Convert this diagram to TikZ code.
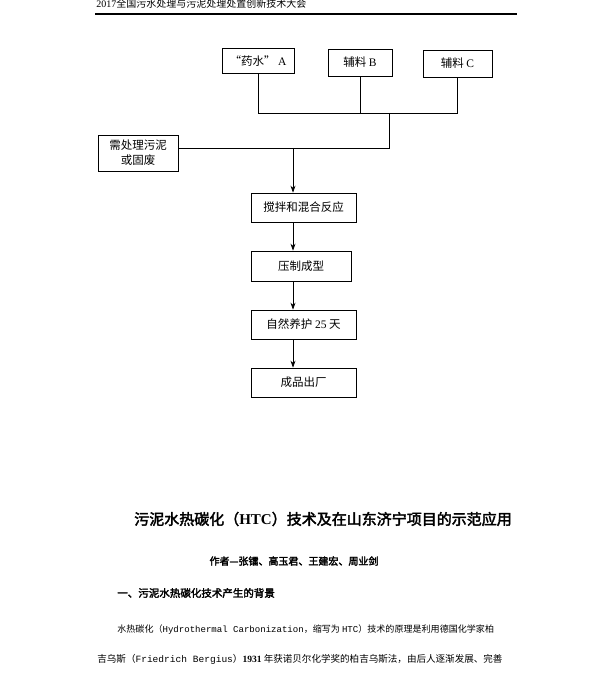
\documentclass[tikz,border=0pt]{standalone}
\usepackage{fontspec}
\setmainfont{Liberation Serif}
\newfontfamily\cjk[AutoFakeBold=2.5]{Noto Sans CJK SC}
\newfontfamily\mono{Liberation Mono}
\usetikzlibrary{arrows.meta}
\tikzset{
  box/.style={draw, line width=0.7pt, inner sep=0pt, align=center, font=\cjk\fontsize{11.5}{15}\selectfont},
  txt/.style={inner sep=0pt, font=\cjk\fontsize{9.2}{11}\selectfont},
}
\begin{document}
\begin{tikzpicture}[x=1pt, y=-1pt, >={Stealth[length=7pt,width=5pt]}, line width=0.7pt]
  \useasboundingbox (0,0) rectangle (600,692);
  %\draw [help lines] (0,0) grid [step=50] (600,692);
  \node (head) [txt, anchor=west, font=\cjk\fontsize{10}{12}\selectfont] at (96,4) {{\rmfamily 2017}全国污水处理与污泥处理处置创新技术大会};
  \draw [line width=1.8pt] (95,14) -- (517,14);
  %Materiali
  \node [box, minimum width=72, minimum height=25] (yaoshui) at (258,61) {“药水” {\rmfamily A}};
  \node [box, minimum width=64, minimum height=27] (fuB) at (360,62.5) {辅料 {\rmfamily B}};
  \node [box, minimum width=69, minimum height=27] (fuC) at (457.5,63.5) {辅料 {\rmfamily C}};
  \coordinate (hub) at (389,113);
  \coordinate (spine) at (293,148);
  \draw (yaoshui.south) -- (yaoshui.south |- hub) -- (fuC.south |- hub) -- (fuC.south);
  \draw (fuB.south) -- (fuB.south |- hub);
  \node [box, minimum width=80, minimum height=36] (wuni) at (138,153) {需处理污泥\\或固废};
  \draw (hub) -- (hub |- spine) -- (spine -| wuni.east);
  %Processo
  \node [box, minimum width=105, minimum height=29] (stir) at (303.5,207.5) {搅拌和混合反应};
  \node [box, minimum width=100, minimum height=30] (press) at (301,266) {压制成型};
  \node [box, minimum width=105, minimum height=29] (cure) at (303.5,324.5) {自然养护 {\rmfamily 25} 天};
  \node [box, minimum width=105, minimum height=29] (out) at (303.5,382.5) {成品出厂};
  \draw [->] (spine) -- (spine |- stir.north);
  \draw [->] (spine |- stir.south) -- (spine |- press.north);
  \draw [->] (spine |- press.south) -- (spine |- cure.north);
  \draw [->] (spine |- cure.south) -- (spine |- out.north);
  %Testo
  \node (title) [txt, font=\cjk\bfseries\fontsize{15}{18}\selectfont] at (323,519) {污泥水热碳化（{\rmfamily\bfseries HTC}）技术及在山东济宁项目的示范应用};
  \node (authors) [txt, font=\cjk\bfseries\fontsize{10}{12}\selectfont] at (294,561) {作者—张镭、高玉君、王建宏、周业剑};
  \node (section) [txt, anchor=west, font=\cjk\bfseries\fontsize{10.5}{12}\selectfont] at (117,593) {一、污泥水热碳化技术产生的背景};
  \node (line1) [txt, anchor=west, font=\cjk\fontsize{9.05}{11}\selectfont] at (117,630) {水热碳化（{\mono Hydrothermal Carbonization}，缩写为 {\mono HTC}）技术的原理是利用德国化学家柏};
  \node (line2) [txt, anchor=west, font=\cjk\fontsize{9.55}{11}\selectfont] at (97,659) {吉乌斯（{\mono Friedrich Bergius}）{\rmfamily\bfseries 1931} 年获诺贝尔化学奖的柏吉乌斯法，由后人逐渐发展、完善};
\end{tikzpicture}
\end{document}
